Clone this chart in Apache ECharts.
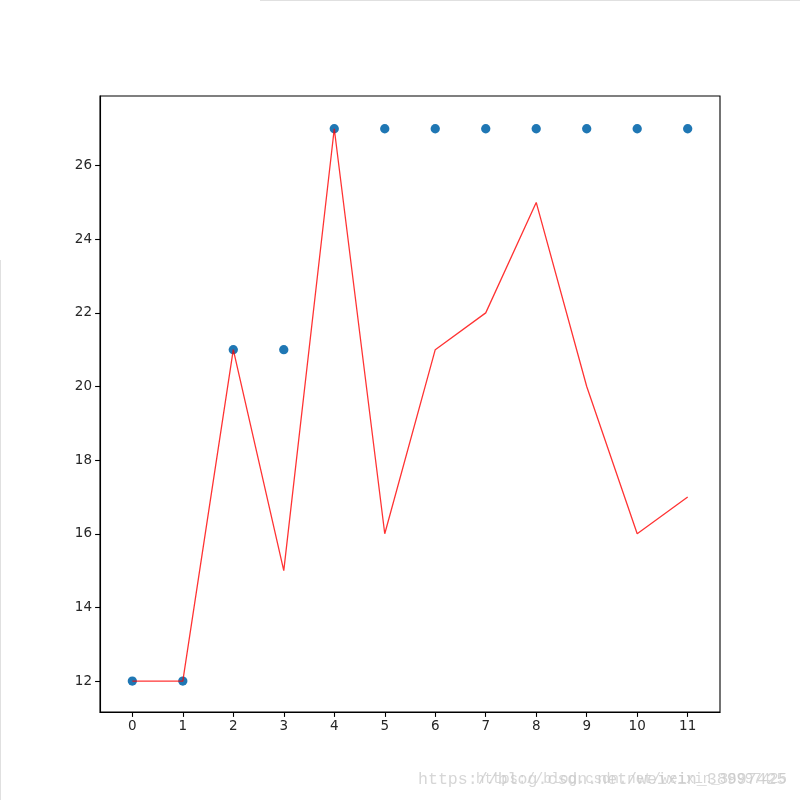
<!DOCTYPE html>
<html><head><meta charset="utf-8">
<script src="https://cdn.jsdelivr.net/npm/echarts@6/dist/echarts.min.js"></script>
<style>html,body{margin:0;padding:0;background:#fff}#c{width:800px;height:800px}</style>
</head><body><div id="c"></div>
<script>
const xValues = [0,1,2,3,4,5,6,7,8,9,10,11];
const scatterValues = [12,12,21,21,27,27,27,27,27,27,27,27];
const lineValues = [12,12,21,15,27,16,21,22,25,20,16,17];
const xTicks = [0,1,2,3,4,5,6,7,8,9,10,11];
const yTicks = [12,14,16,18,20,22,24,26];
const watermark = 'https://blog.csdn.net/weixin_38997425';

const chart = echarts.init(document.getElementById('c'), null, {renderer:'canvas'});
const font = {fontFamily:'DejaVu Sans', fontSize:13.5, color:'#262626'};
chart.setOption({
  animation:false,
  backgroundColor:'#fff',
  grid:{left:100, right:80, top:96, bottom:88, show:true, borderColor:'#000', borderWidth:1.1, backgroundColor:'transparent'},
  xAxis:{type:'value', min:-0.64, max:11.64,
    axisLine:{show:true, onZero:false, lineStyle:{color:'#000', width:1.1}},
    axisTick:{show:true, inside:false, length:4.9, customValues:xTicks, lineStyle:{color:'#000', width:1.1}},
    axisLabel:{show:true, customValues:xTicks, margin:7, ...font},
    splitLine:{show:false}},
  yAxis:{type:'value', min:11.16, max:27.89,
    axisLine:{show:true, onZero:false, lineStyle:{color:'#000', width:1.1}},
    axisTick:{show:true, inside:false, length:4.9, customValues:yTicks, lineStyle:{color:'#000', width:1.1}},
    axisLabel:{show:true, customValues:yTicks, margin:8, ...font},
    splitLine:{show:false}},
  series:[
    {type:'scatter', data:xValues.map((x,i)=>[x,scatterValues[i]]), symbolSize:9.3,
     itemStyle:{color:'#1f77b4', opacity:1}, z:2},
    {type:'line', data:xValues.map((x,i)=>[x,lineValues[i]]), showSymbol:false, symbol:'none',
     lineStyle:{color:'rgba(255,0,0,0.8)', width:1.3}, z:3}
  ],
  graphic:[
    {type:'line', shape:{x1:260,y1:0.5,x2:800,y2:0.5}, style:{stroke:'#e0e0e0', lineWidth:1}},
    {type:'line', shape:{x1:0.5,y1:260,x2:0.5,y2:800}, style:{stroke:'#e0e0e0', lineWidth:1}},
    {type:'text', left:418, top:771, style:{text:watermark, font:'16.6px "Liberation Mono"', fill:'rgba(200,200,200,0.75)'}},
    {type:'text', left:476, top:772, style:{text:watermark, font:'14px "Liberation Mono"', fill:'rgba(200,200,200,0.75)'}}
  ]
});
</script></body></html>
